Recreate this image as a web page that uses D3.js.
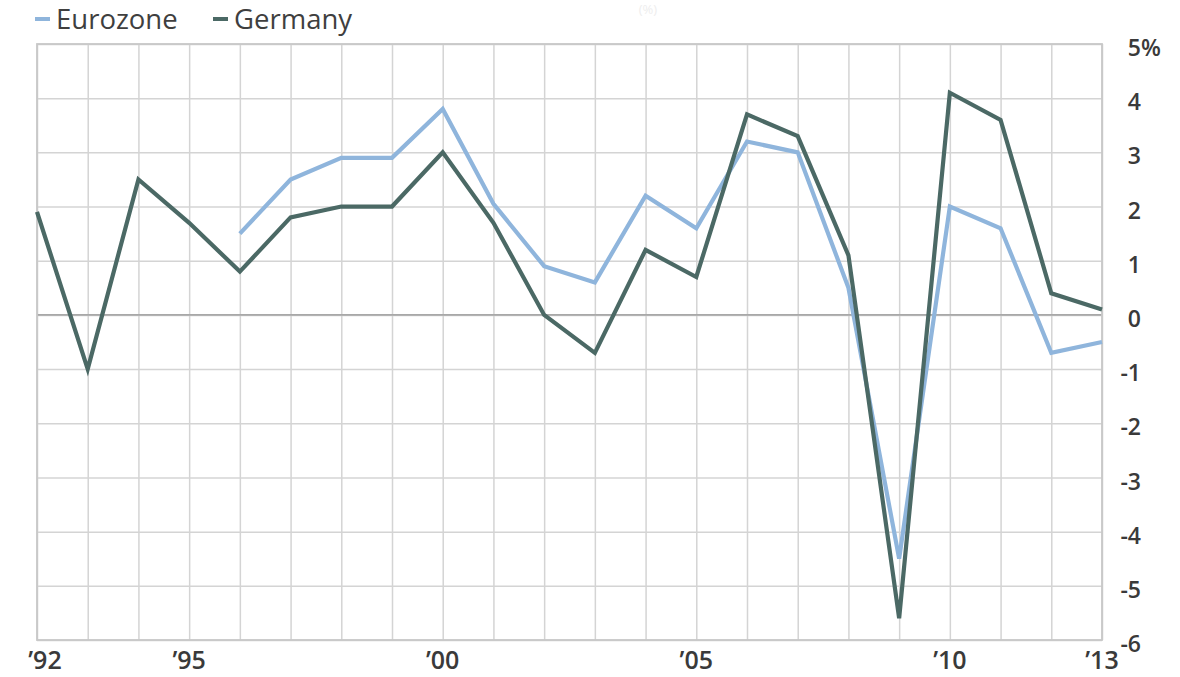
<!DOCTYPE html>
<html>
  <head>
    <meta charset="utf-8">
    <title>GDP growth</title>
    <style>
      body { margin: 0; background: #fff; }
      svg { display: block; font-family: "Open Sans", sans-serif; }
      .grid line { stroke: #d4d4d4; stroke-width: 1.5; }
      .grid path { display: none; }
      .ylab text, .xlab text { fill: #3a3a3a; font-weight: 600; }
    </style>
  </head>
  <body>
    <script src="https://d3js.org/d3.v7.min.js"></script>
    <script>
      // data
      var years = d3.range(1992, 2014);
      var germany = [1.9, -1.0, 2.5, 1.7, 0.8, 1.8, 2.0, 2.0, 3.0, 1.7, 0.0,
                     -0.7, 1.2, 0.7, 3.7, 3.3, 1.1, -5.6, 4.1, 3.6, 0.4, 0.1];
      var eurozone = [null, null, null, null, 1.5, 2.5, 2.9, 2.9, 3.8, 2.05, 0.9,
                      0.6, 2.2, 1.6, 3.2, 3.0, 0.5, -4.5, 2.0, 1.6, -0.7, -0.5];
      var yTicks = [5, 4, 3, 2, 1, 0, -1, -2, -3, -4, -5, -6];
      var xLabelYears = [1992, 1995, 2000, 2005, 2010, 2013];
      var seriesNames = ["Eurozone", "Germany"];
      var colors = {"Eurozone": "#8fb5dc", "Germany": "#4b6965"};

      // plot box (avoid window.top clash)
      var W = 1180, H = 677;
      var pLeft = 37, pRight = 1102, pTop = 44, pBottom = 640;

      var svg = d3.select("body").append("svg")
          .attr("width", W)
          .attr("height", H);

      var x = d3.scaleLinear().domain([1992, 2013]).range([pLeft, pRight]);
      var y = d3.scaleLinear().domain([-6, 5]).range([pBottom, pTop]);

      // vertical grid
      svg.append("g")
          .attr("class", "grid")
          .attr("transform", "translate(0," + pBottom + ")")
          .call(d3.axisBottom(x).tickValues(years).tickSize(-(pBottom - pTop)).tickFormat(""));

      // horizontal grid
      svg.append("g")
          .attr("class", "grid")
          .attr("transform", "translate(" + pLeft + ",0)")
          .call(d3.axisLeft(y).tickValues(yTicks).tickSize(-(pRight - pLeft)).tickFormat(""));

      // darker zero line and frame
      svg.append("line")
          .attr("x1", pLeft).attr("x2", pRight)
          .attr("y1", y(0)).attr("y2", y(0))
          .attr("stroke", "#a8a8a8").attr("stroke-width", 1.8);
      svg.append("rect")
          .attr("x", pLeft).attr("y", pTop)
          .attr("width", pRight - pLeft).attr("height", pBottom - pTop)
          .attr("fill", "none").attr("stroke", "#c8c8c8").attr("stroke-width", 1.8);

      // y labels on the right
      var ylab = svg.append("g").attr("class", "ylab");
      yTicks.forEach(function(t) {
        ylab.append("text")
            .attr("x", 1141)
            .attr("y", y(t) + 4)
            .attr("dy", "0.35em")
            .attr("text-anchor", "end")
            .style("font-size", "23px")
            .text(t);
        if (t === 5) {
          ylab.append("text")
              .attr("x", 1141)
              .attr("y", y(t) + 4)
              .attr("dy", "0.35em")
              .style("font-size", "23px")
              .text("%");
        }
      });

      // x labels
      var xlab = svg.append("g").attr("class", "xlab");
      xLabelYears.forEach(function(yr) {
        xlab.append("text")
            .attr("x", Math.max(x(yr), 45))
            .attr("y", 669)
            .attr("text-anchor", "middle")
            .style("font-size", "25px")
            .text("\u2019" + String(yr).slice(2));
      });

      // lines
      var line = d3.line()
          .defined(function(d) { return d[1] !== null; })
          .x(function(d) { return x(d[0]); })
          .y(function(d) { return y(d[1]); });

      [["Eurozone", eurozone], ["Germany", germany]].forEach(function(s) {
        svg.append("path")
            .datum(years.map(function(yr, i) { return [yr, s[1][i]]; }))
            .attr("fill", "none")
            .attr("stroke", colors[s[0]])
            .attr("stroke-width", 4.2)
            .attr("stroke-linejoin", "miter")
            .attr("d", line);
      });

      // legend
      var lx = [35, 213];
      seriesNames.forEach(function(name, i) {
        svg.append("line")
            .attr("x1", lx[i]).attr("x2", lx[i] + 15)
            .attr("y1", 19).attr("y2", 19)
            .attr("stroke", colors[name]).attr("stroke-width", 4);
        svg.append("text")
            .attr("x", lx[i] + 21)
            .attr("y", 29)
            .attr("fill", "#3f3f3f")
            .style("font-size", "27.5px")
            .text(name);
      });

      // faint unit title
      svg.append("text")
          .attr("x", 648).attr("y", 14)
          .attr("text-anchor", "middle")
          .attr("fill", "#eeeeee")
          .style("font-size", "13px")
          .text("(%)");
    </script>
  </body>
</html>
